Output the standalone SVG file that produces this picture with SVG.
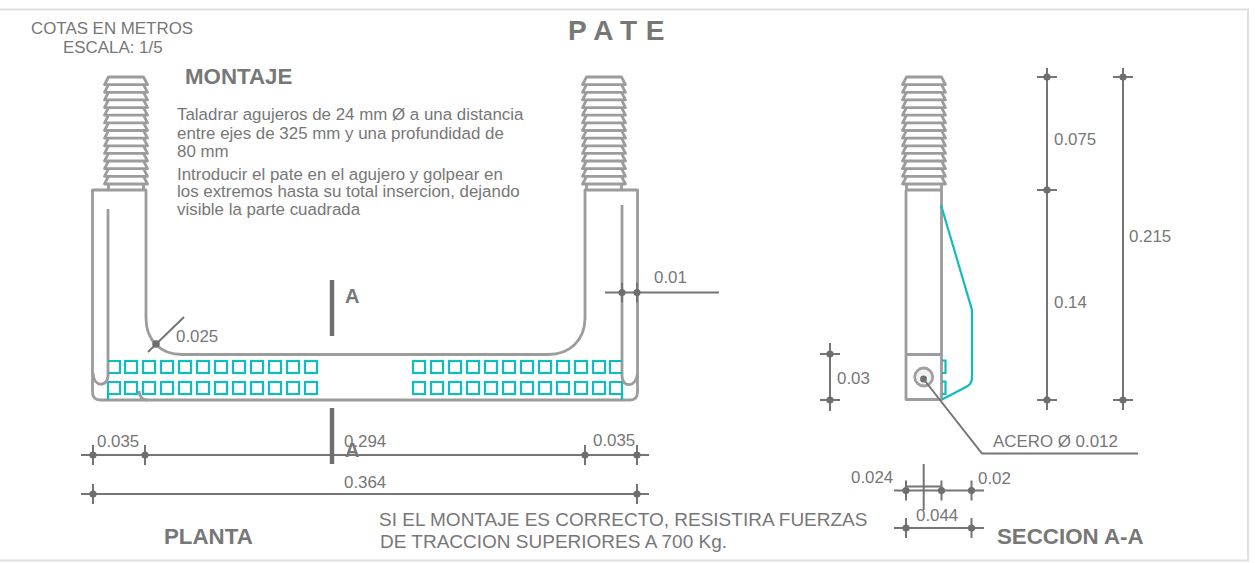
<svg xmlns="http://www.w3.org/2000/svg" width="1255" height="563" viewBox="0 0 1255 563">
<style>
text{font-family:"Liberation Sans",Arial,sans-serif;fill:#777;font-size:16.9px}
.b{font-weight:700;font-size:22.300px}
.m{font-size:19px}
.p{fill:none;stroke:#9c9c9c;stroke-width:2.800;stroke-linejoin:round}
.d{fill:none;stroke:#757575;stroke-width:2}
.c{fill:none;stroke:#10bcbc;stroke-width:2.200}
.dot{fill:#6e6e6e}
</style>
<defs>
<path id="th" class="p" d="M4 0H39L43 7.600H0ZM4 7.600L0 15.300H43L39 7.600M4 15.300L0 22.900H43L39 15.300M4 22.900L0 30.600H43L39 22.900M4 30.600L0 38.200H43L39 30.600M4 38.200L0 45.900H43L39 38.200M4 45.900L0 53.500H43L39 45.900M4 53.500L0 61.100H43L39 53.500M4 61.100L0 68.800H43L39 61.100M4 68.800L0 76.400H43L39 68.800M4 76.400L0 84H43L39 76.400M4 84L0 91.700H43L39 84M4 91.700L0 99.300H43L39 91.700M4 99.300L0 107H43L39 99.300M4 107V113M39 107V113"/>
<rect id="sq" class="c" width="12" height="12"/>
<g id="tk"><path class="d" d="M0 -10V10"/><circle class="dot" r="3.600"/></g>
<g id="ht"><path class="d" d="M-10 0H10"/><circle class="dot" r="3.600"/></g>
</defs>
<path id="frame" d="M0 9.500H1248V560.500H0" fill="none" stroke="#e0e0e0" stroke-width="2"/>
<g id="titles">
<text x="31" y="34">COTAS EN METROS</text>
<text x="63" y="53">ESCALA: 1/5</text>
<text x="568" y="40" font-weight="700" style="font-size:28px;letter-spacing:8.600px">PATE</text>
<text class="b" x="185" y="84">MONTAJE</text>
<text x="177" y="120">Taladrar agujeros de 24 mm Ø a una distancia</text>
<text x="177" y="139">entre ejes de 325 mm y una profundidad de</text>
<text x="177" y="157">80 mm</text>
<text x="177" y="180">Introducir el pate en el agujero y golpear en</text>
<text x="177" y="197">los extremos hasta su total insercion, dejando</text>
<text x="177" y="215">visible la parte cuadrada</text>
<text class="b" x="164" y="544">PLANTA</text>
<text class="b" x="997" y="544">SECCION A-A</text>
<text class="m" x="379" y="526">SI EL MONTAJE ES CORRECTO, RESISTIRA FUERZAS</text>
<text class="m" x="380" y="548">DE TRACCION SUPERIORES A 700 Kg.</text>
</g>
<g id="planta">
<use href="#th" x="104.500" y="77"/>
<use href="#th" x="582.500" y="77"/>
<path class="p" d="M146 190H92.500V392Q92.500 400 100.500 400H630Q637.500 400 637.500 392V190H585V318C585 340 570 354.500 548 354.500H182C160 354.500 146 340 146 318Z"/>
<path class="p" d="M108 209V376C108 386 94 389 93 373"/>
<path class="p" d="M622 205V376C622 388 637 388 637.500 373"/>
<path class="p" d="M139 391Q140 400 147 400"/>
<g id="cuadros-izq">
<path class="c" d="M108 361H120V373H108M108 382H120V394H108M108 382V400"/>
<use href="#sq" x="125" y="361"/><use href="#sq" x="143" y="361"/><use href="#sq" x="161" y="361"/><use href="#sq" x="179" y="361"/><use href="#sq" x="197" y="361"/><use href="#sq" x="215" y="361"/><use href="#sq" x="233" y="361"/><use href="#sq" x="251" y="361"/><use href="#sq" x="269" y="361"/><use href="#sq" x="287" y="361"/><use href="#sq" x="305" y="361"/>
<use href="#sq" x="125" y="382"/><use href="#sq" x="143" y="382"/><use href="#sq" x="161" y="382"/><use href="#sq" x="179" y="382"/><use href="#sq" x="197" y="382"/><use href="#sq" x="215" y="382"/><use href="#sq" x="233" y="382"/><use href="#sq" x="251" y="382"/><use href="#sq" x="269" y="382"/><use href="#sq" x="287" y="382"/><use href="#sq" x="305" y="382"/>
</g>
<g id="cuadros-der">
<path class="c" d="M622 361H610V373H622M622 382H610V394H622M622 382V400"/>
<use href="#sq" x="413" y="361"/><use href="#sq" x="431" y="361"/><use href="#sq" x="449" y="361"/><use href="#sq" x="467" y="361"/><use href="#sq" x="485" y="361"/><use href="#sq" x="503" y="361"/><use href="#sq" x="521" y="361"/><use href="#sq" x="539" y="361"/><use href="#sq" x="557" y="361"/><use href="#sq" x="575" y="361"/><use href="#sq" x="593" y="361"/>
<use href="#sq" x="413" y="382"/><use href="#sq" x="431" y="382"/><use href="#sq" x="449" y="382"/><use href="#sq" x="467" y="382"/><use href="#sq" x="485" y="382"/><use href="#sq" x="503" y="382"/><use href="#sq" x="521" y="382"/><use href="#sq" x="539" y="382"/><use href="#sq" x="557" y="382"/><use href="#sq" x="575" y="382"/><use href="#sq" x="593" y="382"/>
</g>
</g>
<g id="seccion">
<use href="#th" x="902.500" y="77"/>
<path class="p" d="M906 190V399.500H941.500V190M906 190H941.500M906 354.500H941.500"/>
<path class="c" d="M941 205L972 310V378Q972 384 966 387L942 399.500"/>
<path class="c" d="M942 360.500H945.500V373H942M942 381.500H945.500V394H942"/>
<circle cx="923.700" cy="377" r="9" fill="#f1f1f1" stroke="#a0a0a0" stroke-width="2.800"/>
<circle class="dot" cx="923.500" cy="379" r="3.400"/>
</g>
<g id="connectors">
<path class="d" d="M605 292.500H719"/>
<use href="#tk" x="622" y="292.500"/><use href="#tk" x="637" y="292.500"/>
<path class="d" d="M81 455H649"/>
<use href="#tk" x="93" y="455"/><use href="#tk" x="145" y="455"/><use href="#tk" x="585" y="455"/><use href="#tk" x="637" y="455"/>
<path class="d" d="M81 494H649"/>
<use href="#tk" x="93" y="494"/><use href="#tk" x="637" y="494"/>
<path class="d" d="M184 317L148 352"/><circle class="dot" cx="156" cy="344" r="3.800"/>
<path d="M332 280V336M332 408V464" fill="none" stroke="#6e6e6e" stroke-width="4.400"/>
<path class="d" d="M1047 68V410"/>
<use href="#ht" x="1047" y="77"/><use href="#ht" x="1047" y="190"/><use href="#ht" x="1047" y="400"/>
<path class="d" d="M1123 68V410"/>
<use href="#ht" x="1123" y="77"/><use href="#ht" x="1123" y="400"/>
<path class="d" d="M830 343V411"/>
<use href="#ht" x="830" y="354"/><use href="#ht" x="830" y="400"/>
<path class="d" d="M923.500 379L982 453.500H1138"/>
<path class="d" d="M894 490.500H984M906 486.500H941.500"/>
<use href="#tk" x="906" y="490.500"/><use href="#tk" x="941.500" y="490.500"/><use href="#tk" x="971.500" y="490.500"/>
<path class="d" stroke-width="1.500" d="M923.700 464V510"/>
<path class="d" d="M894 528H984"/>
<use href="#tk" x="906" y="528"/><use href="#tk" x="971.500" y="528"/>
</g>
<g id="labels">
<text x="176" y="342">0.025</text>
<text x="654" y="283">0.01</text>
<text x="97" y="447">0.035</text>
<text x="344" y="447">0.294</text>
<text x="593" y="446">0.035</text>
<text x="344" y="488">0.364</text>
<text x="345" y="303" font-weight="700" style="font-size:20px">A</text>
<text x="345" y="457" font-weight="700" style="font-size:20px">A</text>
<text x="1054" y="145">0.075</text>
<text x="1054" y="308">0.14</text>
<text x="1129" y="242">0.215</text>
<text x="837" y="384">0.03</text>
<text x="993" y="447">ACERO Ø 0.012</text>
<text x="851" y="483">0.024</text>
<text x="978" y="484">0.02</text>
<text x="916" y="521">0.044</text>
</g>
</svg>
